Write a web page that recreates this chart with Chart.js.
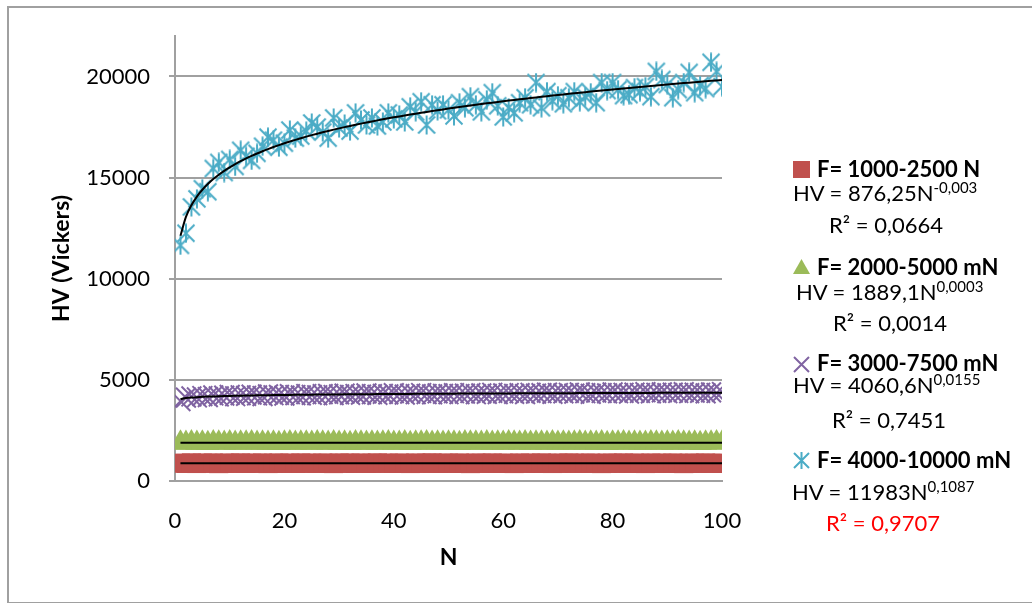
<!DOCTYPE html>
<html>
<head>
<meta charset="utf-8">
<script src="https://cdn.jsdelivr.net/npm/chart.js@4"></script>
<style>
  html, body { margin: 0; padding: 0; background: #fff; }
  #wrap { position: relative; width: 1032px; height: 603px; overflow: hidden; font-family: Lato, sans-serif; }
  #frame { position: absolute; left: 7px; top: 6px; width: 1100px; height: 594px; border: 2px solid #a0a0a0; }
  #c { position: absolute; left: 0; top: 0; }
  .lg { position: absolute; font-size: 22px; line-height: 22px; color: #000; white-space: nowrap; }
  .lg.b { font-weight: bold; }
  .lg sup { font-size: 15px; line-height: 0; vertical-align: 8px; }
  .mk { position: absolute; }
</style>
</head>
<body>
<div id="wrap">
  <div id="frame"></div>
  <canvas id="c" width="1032" height="603"></canvas>

  <svg class="mk" style="left:793px;top:161px" width="17" height="17"><rect x="0" y="0" width="17" height="17" fill="#c0504d"/></svg>
  <div class="lg b" style="left:817px;top:158px">F= 1000-2500 N</div>
  <div class="lg" style="left:793px;top:182px">HV = 876,25N<sup>-0,003</sup></div>
  <div class="lg" style="left:829px;top:214px">R² = 0,0664</div>

  <svg class="mk" style="left:793px;top:259px" width="17" height="15"><polygon points="8.5,0 17,15 0,15" fill="#9bbb59"/></svg>
  <div class="lg b" style="left:817px;top:256px">F= 2000-5000 mN</div>
  <div class="lg" style="left:796px;top:281px">HV = 1889,1N<sup>0,0003</sup></div>
  <div class="lg" style="left:833px;top:312px">R² = 0,0014</div>

  <svg class="mk" style="left:793px;top:356px" width="17" height="17"><path d="M1,1 L16,16 M16,1 L1,16" stroke="#8064a2" stroke-width="2"/></svg>
  <div class="lg b" style="left:817px;top:352px">F= 3000-7500 mN</div>
  <div class="lg" style="left:793px;top:374px">HV = 4060,6N<sup>0,0155</sup></div>
  <div class="lg" style="left:832px;top:409px">R² = 0,7451</div>

  <svg class="mk" style="left:793px;top:452px" width="17" height="17"><path d="M1,1 L16,16 M16,1 L1,16 M8.5,0 L8.5,17" stroke="#4bacc6" stroke-width="2"/></svg>
  <div class="lg b" style="left:817px;top:449px">F= 4000-10000 mN</div>
  <div class="lg" style="left:792px;top:481px">HV = 11983N<sup>0,1087</sup></div>
  <div class="lg" style="left:826px;top:512px;color:#ff0000">R² = 0,9707</div>
</div>
<script>
// cycle number N
const cycles = [
  1, 2, 3, 4, 5, 6, 7, 8, 9, 10, 11, 12, 13, 14, 15, 16, 17, 18, 19, 20,
  21, 22, 23, 24, 25, 26, 27, 28, 29, 30, 31, 32, 33, 34, 35, 36, 37, 38, 39, 40,
  41, 42, 43, 44, 45, 46, 47, 48, 49, 50, 51, 52, 53, 54, 55, 56, 57, 58, 59, 60,
  61, 62, 63, 64, 65, 66, 67, 68, 69, 70, 71, 72, 73, 74, 75, 76, 77, 78, 79, 80,
  81, 82, 83, 84, 85, 86, 87, 88, 89, 90, 91, 92, 93, 94, 95, 96, 97, 98, 99, 100
];

// HV readings per load range
const hv1000 = [
  880, 870, 895, 865, 885, 875, 890, 860, 878, 884, 872, 893, 868, 881, 876, 889, 863, 879, 887, 871,
  883, 866, 892, 874, 880, 869, 886, 877, 862, 890, 875, 884, 870, 888, 866, 879, 891, 873, 882, 868,
  885, 876, 864, 889, 872, 880, 895, 867, 878, 883, 870, 887, 874, 861, 886, 879, 872, 890, 868, 881,
  876, 863, 888, 874, 882, 869, 891, 877, 865, 884, 873, 889, 880, 867, 878, 886, 871, 862, 885, 879,
  874, 890, 868, 882, 877, 864, 888, 873, 880, 869, 886, 875, 861, 883, 878, 870, 889, 874, 866, 880
];
const hv2000 = [
  1890, 1878, 1902, 1884, 1895, 1871, 1899, 1887, 1880, 1905, 1876, 1893, 1886, 1908, 1874, 1891, 1882, 1897, 1869, 1889,
  1901, 1879, 1894, 1885, 1873, 1906, 1888, 1877, 1898, 1883, 1892, 1870, 1904, 1886, 1881, 1896, 1875, 1890, 1907, 1884,
  1879, 1899, 1872, 1893, 1887, 1903, 1876, 1891, 1882, 1897, 1888, 1871, 1900, 1885, 1894, 1878, 1906, 1883, 1890, 1874,
  1898, 1886, 1880, 1902, 1877, 1892, 1889, 1873, 1904, 1884, 1895, 1879, 1891, 1907, 1875, 1888, 1882, 1899, 1870, 1893,
  1886, 1901, 1878, 1896, 1884, 1873, 1905, 1889, 1881, 1894, 1876, 1900, 1887, 1883, 1897, 1872, 1892, 1885, 1903, 1890
];
const hv3000 = [
  3950, 4120, 4180, 4130, 4200, 4150, 4230, 4180, 4220, 4260, 4190, 4240, 4210, 4270, 4230, 4200, 4280, 4240, 4260, 4220,
  4290, 4250, 4230, 4300, 4260, 4240, 4290, 4310, 4250, 4280, 4320, 4260, 4300, 4270, 4330, 4290, 4260, 4310, 4280, 4340,
  4300, 4270, 4320, 4290, 4350, 4300, 4280, 4330, 4310, 4290, 4340, 4300, 4320, 4350, 4290, 4330, 4310, 4360, 4300, 4330,
  4350, 4310, 4340, 4300, 4360, 4320, 4340, 4370, 4310, 4350, 4330, 4360, 4320, 4380, 4340, 4310, 4370, 4350, 4330, 4380,
  4340, 4360, 4320, 4370, 4350, 4390, 4330, 4360, 4380, 4340, 4370, 4350, 4390, 4340, 4370, 4360, 4330, 4380, 4350, 4400
];
const hv4000 = [
  11650, 12250, 13550, 13950, 14450, 14300, 15450, 15750, 15250, 15900,
  15550, 16350, 16050, 15850, 16200, 16550, 17000, 16850, 16500, 16700,
  17350, 16950, 17050, 17300, 17700, 17500, 17250, 16950, 17950, 17450,
  17650, 17300, 18200, 17850, 17600, 17950, 17550, 17750, 18200, 17900,
  18100, 17750, 18500, 18250, 18750, 17600, 18600, 18300, 18600, 18350,
  18050, 18700, 18450, 19000, 18600, 18250, 18850, 19200, 18550, 18000,
  18450, 18200, 18700, 18950, 18600, 19700, 18450, 19250, 18800, 19050,
  18650, 18950, 19250, 18750, 19000, 19200, 18700, 19700, 19300, 19700,
  19350, 19050, 19100, 19450, 19250, 19500, 19000, 20250, 19850, 19600,
  18950, 19350, 19700, 20200, 19200, 19550, 19400, 20700, 20250, 19500
];

const xTicks = [0, 20, 40, 60, 80, 100];
const yTicks = [0, 5000, 10000, 15000, 20000];

const COLORS = {
  red: '#c0504d',
  green: '#9bbb59',
  purple: '#8064a2',
  blue: '#4bacc6',
  grid: '#a0a0a0',
};

const FONT = 'Lato, sans-serif';

// power trend (least squares on ln-ln), like the spreadsheet trendline
function powerTrend(xs, ys) {
  const lx = xs.map(Math.log);
  const ly = ys.map(Math.log);
  const n = xs.length;
  const mx = lx.reduce((a, b) => a + b, 0) / n;
  const my = ly.reduce((a, b) => a + b, 0) / n;
  let sxy = 0, sxx = 0;
  for (let i = 0; i < n; i++) {
    sxy += (lx[i] - mx) * (ly[i] - my);
    sxx += (lx[i] - mx) * (lx[i] - mx);
  }
  const b = sxy / sxx;
  const a = Math.exp(my - b * mx);
  return xs.map((x) => ({ x, y: a * Math.pow(x, b) }));
}

function points(ys) {
  return cycles.map((n, i) => ({ x: n, y: ys[i] }));
}

// asterisk marker: X with a vertical bar
function asteriskMarker(size, color) {
  const c = document.createElement('canvas');
  c.width = size;
  c.height = size;
  const ctx = c.getContext('2d');
  const m = size / 2;
  const d = size / 2 - 1.5;
  ctx.strokeStyle = color;
  ctx.lineWidth = 2;
  ctx.beginPath();
  ctx.moveTo(m - d, m - d); ctx.lineTo(m + d, m + d);
  ctx.moveTo(m + d, m - d); ctx.lineTo(m - d, m + d);
  ctx.moveTo(m, 0.5); ctx.lineTo(m, size - 0.5);
  ctx.stroke();
  return c;
}

function scatterSet(ys, color, style, radius, order) {
  return {
    type: 'scatter',
    data: points(ys),
    order,
    pointStyle: style,
    pointRadius: radius,
    pointBackgroundColor: color,
    pointBorderColor: color,
    pointBorderWidth: style === 'crossRot' ? 2 : 0,
  };
}

function trendSet(ys) {
  return {
    type: 'line',
    data: powerTrend(cycles, ys),
    order: 0,
    borderColor: '#000',
    borderWidth: 2,
    pointRadius: 0,
    cubicInterpolationMode: 'monotone',
  };
}

new Chart(document.getElementById('c'), {
  data: {
    datasets: [
      scatterSet(hv1000, COLORS.red, 'rect', 13.5, 4),
      scatterSet(hv2000, COLORS.green, 'triangle', 13.5, 3),
      scatterSet(hv3000, COLORS.purple, 'crossRot', 14, 2),
      scatterSet(hv4000, COLORS.blue, asteriskMarker(20, COLORS.blue), 10, 1),
      trendSet(hv1000),
      trendSet(hv2000),
      trendSet(hv3000),
      trendSet(hv4000),
    ],
  },
  options: {
    responsive: false,
    animation: false,
    layout: { padding: { left: 8, top: 36, right: 310, bottom: 8 } },
    plugins: {
      legend: { display: false },
      tooltip: { enabled: false },
    },
    scales: {
      x: {
        type: 'linear',
        min: xTicks[0],
        max: xTicks[xTicks.length - 1],
        afterBuildTicks: (s) => { s.ticks = xTicks.map((v) => ({ value: v })); },
        afterFit: (s) => { s.height = 114; },
        grid: { display: false },
        border: { color: COLORS.grid, width: 2 },
        ticks: {
          color: '#000',
          font: { family: FONT, size: 22 },
          padding: 19,
          maxRotation: 0,
          callback: (v) => String(v),
        },
        title: {
          display: true,
          text: 'N',
          color: '#000',
          font: { family: FONT, size: 23, weight: 'bold' },
          padding: { top: 0, bottom: 24 },
        },
      },
      y: {
        type: 'linear',
        min: 0,
        max: 22000,
        afterBuildTicks: (s) => { s.ticks = yTicks.map((v) => ({ value: v })); },
        afterFit: (s) => { s.width = 167; },
        grid: { color: COLORS.grid, lineWidth: 2, tickLength: 6 },
        border: { color: COLORS.grid, width: 2 },
        ticks: {
          color: '#000',
          font: { family: FONT, size: 22 },
          padding: 19,
          callback: (v) => String(v),
        },
        title: {
          display: true,
          text: 'HV (Vickers)',
          color: '#000',
          font: { family: FONT, size: 23, weight: 'bold' },
          padding: { top: 40, bottom: 0 },
        },
      },
    },
  },
});
</script>
</body>
</html>
